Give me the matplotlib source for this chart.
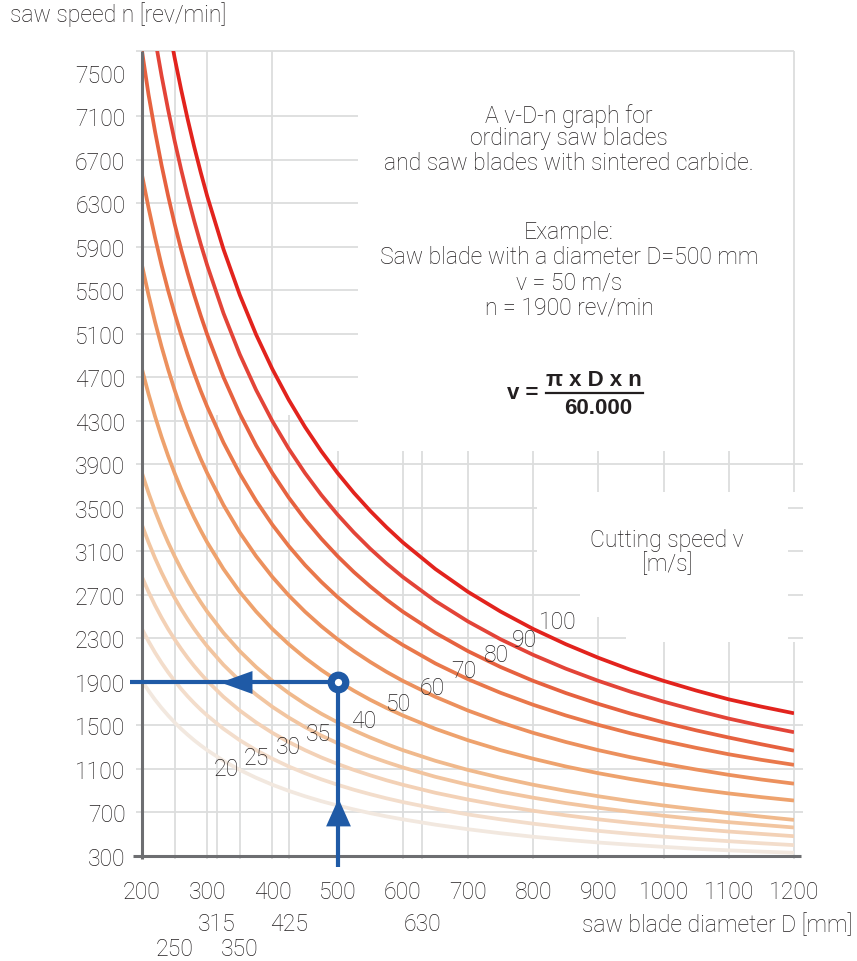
import matplotlib
matplotlib.use("Agg")
import matplotlib.pyplot as plt

plt.rcParams['font.family'] = ['Roboto', 'DejaVu Sans']

# ---------------- data ----------------
diameters_mm = [200, 210, 220, 230, 240, 250, 260, 270, 280, 290, 300,
                325, 350, 375, 400, 425, 450, 475, 500, 525,
                550, 575, 600, 650, 700, 750, 800, 850, 900, 950, 1000, 1050, 1100, 1150, 1200]

n_20 = [1910, 1819, 1736, 1661, 1592, 1528, 1469, 1415, 1364, 1317, 1273,
        1175, 1091, 1019, 955, 899, 849, 804, 764, 728,
        694, 664, 637, 588, 546, 509, 477, 449, 424, 403, 384, 366, 352, 340, 330]
n_25 = [2387, 2274, 2170, 2076, 1989, 1910, 1836, 1768, 1705, 1646, 1592,
        1469, 1364, 1273, 1194, 1123, 1061, 1005, 955, 909,
        868, 830, 796, 735, 682, 637, 597, 562, 531, 503, 478, 456, 436, 417, 400]
n_30 = [2865, 2728, 2604, 2491, 2387, 2292, 2204, 2122, 2046, 1976, 1910,
        1763, 1637, 1528, 1432, 1348, 1273, 1206, 1146, 1091,
        1042, 996, 955, 881, 819, 764, 716, 674, 637, 604, 575, 549, 525, 503, 482]
n_35 = [3342, 3183, 3038, 2906, 2785, 2674, 2571, 2476, 2387, 2305, 2228,
        2057, 1910, 1783, 1671, 1573, 1485, 1407, 1337, 1273,
        1215, 1163, 1114, 1028, 955, 891, 836, 786, 743, 705, 670, 639, 611, 586, 562]
n_40 = [3820, 3638, 3472, 3321, 3183, 3056, 2938, 2829, 2728, 2634, 2546,
        2351, 2183, 2037, 1910, 1798, 1698, 1608, 1528, 1455,
        1389, 1329, 1273, 1175, 1091, 1019, 955, 899, 849, 804, 764, 728, 694, 662, 632]
n_50 = [4775, 4547, 4341, 4152, 3979, 3820, 3673, 3537, 3410, 3293, 3183,
        2938, 2728, 2547, 2387, 2247, 2122, 2010, 1910, 1819,
        1736, 1661, 1592, 1469, 1364, 1273, 1194, 1123, 1061, 1007, 958, 914, 875, 841, 810]
n_60 = [5730, 5457, 5209, 4982, 4775, 4584, 4407, 4244, 4093, 3951, 3820,
        3526, 3274, 3056, 2865, 2696, 2546, 2412, 2292, 2183,
        2084, 1993, 1910, 1763, 1637, 1528, 1432, 1348, 1273, 1207, 1148, 1095, 1046, 1003, 965]
n_70 = [6560, 6260, 5985, 5730, 5500, 5290, 5092, 4908, 4737, 4577, 4430,
        4100, 3815, 3565, 3345, 3150, 2975, 2820, 2680, 2555,
        2440, 2335, 2240, 2070, 1925, 1800, 1690, 1592, 1505, 1427, 1358, 1294, 1235, 1184, 1138]
n_80 = [7700, 7300, 6960, 6650, 6370, 6112, 5876, 5659, 5457, 5269, 5093,
        4701, 4365, 4074, 3820, 3595, 3395, 3217, 3056, 2910,
        2778, 2657, 2546, 2351, 2183, 2037, 1910, 1798, 1698, 1608, 1528, 1455, 1389, 1327, 1268]
n_90 = [8594, 8185, 7813, 7473, 7162, 6875, 6611, 6366, 6139, 5927, 5730,
        5289, 4911, 4584, 4297, 4044, 3820, 3619, 3438, 3274,
        3125, 2989, 2865, 2644, 2456, 2292, 2149, 2022, 1910, 1809, 1719, 1638, 1563, 1497, 1438]
n_100 = [9549, 9095, 8681, 8304, 7958, 7639, 7346, 7074, 6821, 6586, 6366,
         5877, 5457, 5093, 4775, 4494, 4244, 4021, 3820, 3638,
         3473, 3322, 3183, 2938, 2728, 2547, 2387, 2247, 2122, 2010, 1910, 1821, 1740, 1673, 1612]

speeds = [20, 25, 30, 35, 40, 50, 60, 70, 80, 90, 100]
curves = [n_20, n_25, n_30, n_35, n_40, n_50, n_60, n_70, n_80, n_90, n_100]
curve_colors = ['#f2e8df', '#f3ddcb', '#f3d1b6', '#f2c5a0', '#f0b98c', '#eea26d',
                '#ec905d', '#e9784b', '#e6613f', '#e34438', '#e2231d']
label_D = [329, 376, 425, 470, 540, 593, 645, 694, 743, 787, 838]
label_n = [1100, 1210, 1311, 1430, 1541, 1706, 1853, 2009, 2156, 2294, 2460]

y_ticks = [300, 700, 1100, 1500, 1900, 2300, 2700, 3100, 3500, 3900, 4300,
           4700, 5100, 5500, 5900, 6300, 6700, 7100, 7500]
x_ticks_row1 = [200, 300, 400, 500, 600, 700, 800, 900, 1000, 1100, 1200]
x_ticks_row2 = [315, 425, 630]
x_ticks_row3 = [250, 350]

example_D = 500
example_n = 1900

# ---------------- figure ----------------
W, H = 857, 962
fig = plt.figure(figsize=(W / 100, H / 100), dpi=100)


def fx(x):
    return x / W


def fy(y):
    return 1 - y / H


FS = 16.6
TXT = '#231f20'
GRID = '#dcdddd'
AXC = '#6d6e71'
BLUE = '#1f5aa6'

ax = fig.add_axes([fx(142), fy(857), fx(794) - fx(142), fy(52) - fy(857)])
ax.set_xlim(200, 1200)
ax.set_ylim(300, 7700)
for s in ax.spines.values():
    s.set_visible(False)
ax.set_xticks([])
ax.set_yticks(y_ticks)
ax.set_yticklabels([str(v) for v in y_ticks])
ax.tick_params(axis='y', length=0, pad=12, labelsize=FS, labelcolor=TXT)
for t in ax.get_yticklabels():
    t.set_fontweight('light')

# grid segments (with white text areas left out)
D_left, D_right_ext, n_bot = 190.8, 1214, 272
h_segments = [(7700, D_left, 1200)]
for n in [4300, 4700, 5100, 5500, 5900, 6300, 6700, 7100]:
    h_segments.append((n, D_left, 531))
h_segments.append((3900, D_left, D_right_ext))
for n in [3500, 3100]:
    h_segments += [(n, D_left, 806), (n, 1191, D_right_ext)]
h_segments += [(2700, D_left, 872), (2700, 1191, D_right_ext)]
h_segments += [(2300, D_left, 942), (2300, 1191, D_right_ext)]
for n in [1900, 1500, 1100, 700]:
    h_segments.append((n, D_left, D_right_ext))
for n, a, b in h_segments:
    ax.plot([a, b], [n, n], color=GRID, lw=1.3, zorder=1, clip_on=False,
            solid_capstyle='butt')

v_segments = []
for d in [250, 300, 400]:
    v_segments.append((d, n_bot, 7700))
for d in [315, 350, 425]:
    v_segments.append((d, n_bot, 4350))
for d in [500, 600, 630, 700, 800]:
    v_segments.append((d, n_bot, 4020))
v_segments += [(900, n_bot, 2496), (900, 3650, 4020)]
for d in [1000, 1100]:
    v_segments += [(d, n_bot, 2267), (d, 3650, 4020)]
v_segments += [(1200, n_bot, 2267), (1200, 3650, 7700)]
for d, a, b in v_segments:
    ax.plot([d, d], [a, b], color=GRID, lw=1.3, zorder=1, clip_on=False,
            solid_capstyle='butt')

# axes lines
ax.plot([200, 200], [272, 7700], color=AXC, lw=2.2, zorder=4, clip_on=False,
        solid_capstyle='butt')
ax.plot([186.2, 1210.5], [300, 300], color=AXC, lw=2.2, zorder=4, clip_on=False,
        solid_capstyle='butt')

# curves
for n_vals, col in zip(curves, curve_colors):
    ax.plot(diameters_mm, n_vals, color=col, lw=2.7, zorder=3,
            solid_capstyle='butt', solid_joinstyle='round')

for v, d, n in zip(speeds, label_D, label_n):
    ax.text(d, n, str(v), fontsize=FS, color=TXT, ha='center', va='center',
            fontweight='light', zorder=6)

# example arrows
ax.plot([181.6, example_D], [example_n, example_n], color=BLUE, lw=3, zorder=5,
        clip_on=False, solid_capstyle='butt')
ax.plot([example_D, example_D], [199, example_n], color=BLUE, lw=3, zorder=5,
        clip_on=False, solid_capstyle='butt')
left_head = [(-16, 0), (16, -11.5), (16, 11.5), (-16, 0)]
up_head = [(0, 14), (-12.5, -14), (12.5, -14), (0, 14)]
ax.plot([344], [example_n], marker=left_head, markersize=23, color=BLUE,
        mec=BLUE, mew=0, zorder=5, clip_on=False)
ax.plot([example_D], [705], marker=up_head, markersize=20, color=BLUE,
        mec=BLUE, mew=0, zorder=5, clip_on=False)
ax.plot([example_D], [example_n], marker='o', markersize=10.5, mfc='white',
        mec=BLUE, mew=5.2, zorder=6, clip_on=False)

# x tick labels (three rows)
tr = ax.get_xaxis_transform()
for vals, yy in [(x_ticks_row1, 893), (x_ticks_row2, 925), (x_ticks_row3, 950)]:
    for v in vals:
        ax.text(v, (857 - yy) / 805, str(v), transform=tr, ha='center', va='center',
                fontsize=FS, color=TXT, fontweight='light', clip_on=False)

fig.text(fx(852), fy(925), 'saw blade diameter D [mm]', ha='right', va='center',
         fontsize=FS, color=TXT, fontweight='light')
fig.text(fx(10), fy(15), 'saw speed n [rev/min]', ha='left', va='center',
         fontsize=FS, color=TXT, fontweight='light')

# description text
desc = [("A v-D-n graph for", 116), ("ordinary saw blades", 139),
        ("and saw blades with sintered carbide.", 163), ("Example:", 232),
        ("Saw blade with a diameter D=500 mm", 257), ("v = 50 m/s", 283),
        ("n = 1900 rev/min", 308)]
for s, yy in desc:
    fig.text(fx(569), fy(yy), s, ha='center', va='center', fontsize=FS,
             color=TXT, fontweight='light')

fig.text(fx(667), fy(540), 'Cutting speed v', ha='center', va='center', fontsize=FS,
         color=TXT, fontweight='light')
fig.text(fx(667), fy(564), '[m/s]', ha='center', va='center', fontsize=FS,
         color=TXT, fontweight='light')

# formula
FF = ['Liberation Sans', 'DejaVu Sans']
fig.text(fx(523), fy(394), 'v =', ha='center', va='center', fontsize=16,
         color=TXT, fontweight='bold', family=FF)
fig.text(fx(594), fy(380), 'π x D x n', ha='center', va='center', fontsize=16,
         color=TXT, fontweight='bold', family=FF)
fig.text(fx(598), fy(409), '60.000', ha='center', va='center', fontsize=16,
         color=TXT, fontweight='bold', family=FF)
fig.add_artist(plt.Line2D([fx(546), fx(643)], [fy(394), fy(394)], color=TXT, lw=1.6))

fig.savefig('out.png', dpi=100)
